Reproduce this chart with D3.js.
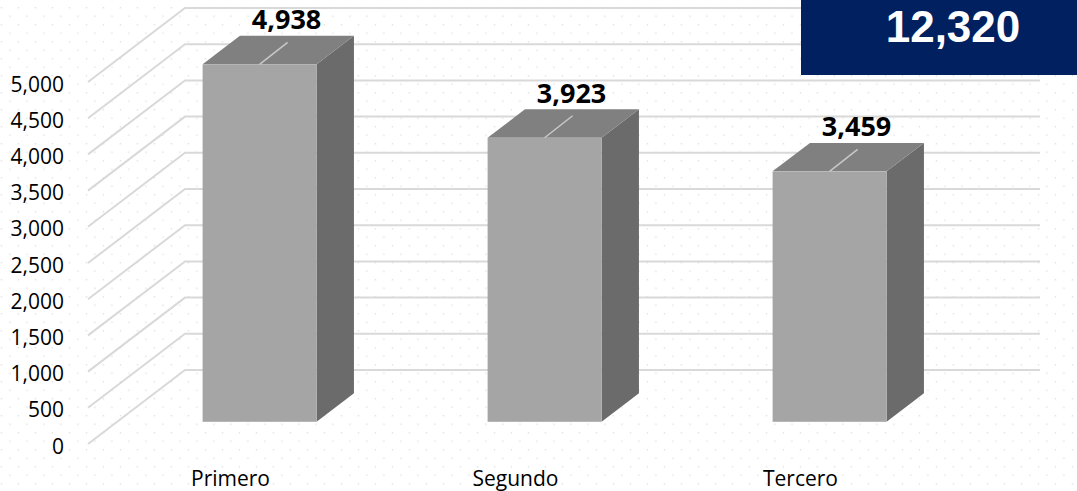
<!DOCTYPE html>
<html>
<head>
<meta charset="utf-8">
<script src="https://cdn.jsdelivr.net/npm/d3@7"></script>
<style>
  html, body { margin: 0; padding: 0; background: #fff; }
  svg { display: block; }
  text { font-family: "Open Sans", "Liberation Sans", sans-serif; }
</style>
</head>
<body>
<svg id="chart" width="1077" height="491"></svg>
<script>
const categories = ["Primero", "Segundo", "Tercero"];
const values = [4938, 3923, 3459];
const yTicks = [0, 500, 1000, 1500, 2000, 2500, 3000, 3500, 4000, 4500, 5000];
const totalLabel = 12320;

const W = 1077, H = 491;
const svg = d3.select("#chart");
const fmt = d3.format(",");

// dotted background pattern
const defs = svg.append("defs");
const pat = defs.append("pattern")
  .attr("id", "dots").attr("patternUnits", "userSpaceOnUse")
  .attr("width", 17).attr("height", 17).attr("x", 0.8).attr("y", 7.2);
pat.append("rect").attr("x", 0).attr("y", 0).attr("width", 1.2).attr("height", 1.2).attr("fill", "#d6d6d6");
pat.append("rect").attr("x", 8.5).attr("y", 8.5).attr("width", 1.2).attr("height", 1.2).attr("fill", "#d6d6d6");
svg.append("rect").attr("width", W).attr("height", H).attr("fill", "#fff");
svg.append("rect").attr("width", W).attr("height", H).attr("fill", "url(#dots)");

// oblique 3D geometry
const frontLeft = 88, frontWidth = 855;
const depthDX = 97, depthDY = -74;      // full floor depth
const barPosF = 0.3, barDepthF = 0.385;  // bar position / depth along floor

const x = d3.scaleBand().domain(categories)
  .range([frontLeft, frontLeft + frontWidth])
  .paddingInner(0.6).paddingOuter(0.3);
const y = d3.scaleLinear().domain([0, 5000]).range([444, 82]);

// gridlines: side wall diagonals + back wall horizontals
const grid = svg.append("g").attr("stroke", "#d9d9d9").attr("stroke-width", 2).attr("fill", "none");
yTicks.forEach(t => {
  const yf = y(t);
  grid.append("polyline")
    .attr("points", [
      [frontLeft, yf],
      [frontLeft + depthDX, yf + depthDY],
      [frontLeft + frontWidth + depthDX, yf + depthDY]
    ].map(p => p.join(",")).join(" "));
});

// y axis labels
svg.append("g").selectAll("text").data(yTicks).join("text")
  .attr("x", 64).attr("y", d => y(d) + 2)
  .attr("dy", "0.36em")
  .attr("text-anchor", "end")
  .attr("font-size", 21).attr("fill", "#000")
  .text(d => fmt(d));

// bars
const fx = barPosF * depthDX, fy = barPosF * depthDY;
const bdx = barDepthF * depthDX, bdy = barDepthF * depthDY;
const bw = x.bandwidth();
const bars = svg.append("g");
categories.forEach((c, i) => {
  const x0 = x(c) + fx, x1 = x0 + bw;
  const yb = y(0) + fy, yt = y(values[i]) + fy;
  const g = bars.append("g");
  // side
  g.append("polygon").attr("fill", "#6b6b6b")
    .attr("points", [[x1, yt], [x1 + bdx, yt + bdy], [x1 + bdx, yb + bdy], [x1, yb]].map(p => p.join(",")).join(" "));
  // top
  g.append("polygon").attr("fill", "#808080")
    .attr("points", [[x0, yt], [x0 + bdx, yt + bdy], [x1 + bdx, yt + bdy], [x1, yt]].map(p => p.join(",")).join(" "));
  // front
  g.append("rect").attr("fill", "#a5a5a5")
    .attr("x", x0).attr("y", yt).attr("width", bw).attr("height", yb - yt);
  // leader line
  const cx = x0 + bw / 2;
  g.append("line").attr("stroke", "#c8c8c8").attr("stroke-width", 1.5)
    .attr("x1", cx).attr("y1", yt).attr("x2", cx + 28).attr("y2", yt - 22);
  // data label
  g.append("text")
    .attr("x", cx + 27).attr("y", yt - 35)
    .attr("text-anchor", "middle")
    .attr("font-size", 27).attr("font-weight", "bold").attr("fill", "#000")
    .text(fmt(values[i]));
});

// category labels
svg.append("g").selectAll("text").data(categories).join("text")
  .attr("x", d => x(d) + bw / 2).attr("y", 486)
  .attr("text-anchor", "middle")
  .attr("font-size", 21).attr("fill", "#000")
  .text(d => d);

// total box
svg.append("rect").attr("x", 801).attr("y", 0).attr("width", W - 801).attr("height", 75).attr("fill", "#002060");
svg.append("text").attr("x", 953).attr("y", 42)
  .attr("text-anchor", "middle")
  .style("font-family", "'Liberation Sans', Arial, sans-serif")
  .attr("font-size", 44).attr("font-weight", "bold").attr("fill", "#fff")
  .text(fmt(totalLabel));
</script>
</body>
</html>
